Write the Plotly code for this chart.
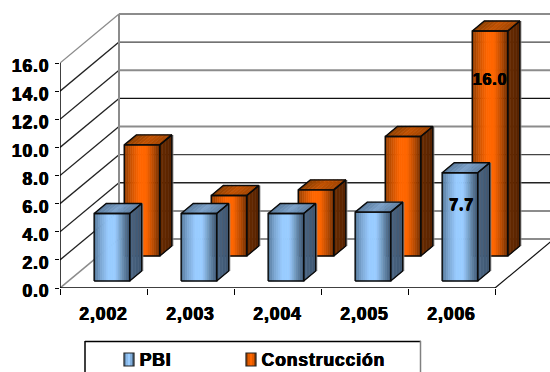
import numpy as np
import plotly.graph_objects as go

# Chart data
years = ["2,002", "2,003", "2,004", "2,005", "2,006"]
pbi = [4.8, 4.8, 4.8, 4.9, 7.7]
construccion = [7.9, 4.3, 4.7, 8.5, 16.0]
y_ticks = [0, 2, 4, 6, 8, 10, 12, 14, 16]
grid_colors = ["#8c8c8c", "#8c8c8c", "#222222", "#444444", "#8c8c8c",
               "#111111", "#8c8c8c", "#444444", "#8c8c8c"]

# Canvas and scale of the front plane
W, H = 550, 372
X0_PX, Y0_PX = 60, 288
CAT_PX, UNIT_PX = 87.0, 14.0625

# Oblique projection: a point at depth d moves right and up
DX = 59 / CAT_PX
DY = 49 / UNIT_PX
BAR_W = 35.5 / CAT_PX
BAR_D = 10 / 49
N_STRIPS = 18

FONT = "Liberation Sans"
FONT_SIZE = 17.5
HEAVY = "0.5px 0 0 #000, -0.4px 0 0 #000, 0 0.3px 0 #000"


def ramp(stops, t):
    pos = [s[0] for s in stops]
    cols = np.array([[int(s[1][i:i + 2], 16) for i in (1, 3, 5)] for s in stops], float)
    rgb = [np.interp(t, pos, cols[:, k]) for k in range(3)]
    return "rgb(%d,%d,%d)" % tuple(int(round(v)) for v in rgb)


ORANGE = {
    "front": [(0, "#8a3c00"), (0.18, "#c85200"), (0.42, "#ff6600"), (0.62, "#ff6600"),
              (0.85, "#b04800"), (1, "#6e2c00")],
    "side": [(0, "#6a2c00"), (1, "#562200")],
    "top": [(0, "#8a3e00"), (0.5, "#c05000"), (1, "#a04400")],
}
BLUE = {
    "front": [(0, "#4f7395"), (0.18, "#7aa5d0"), (0.4, "#99ccff"), (0.6, "#99ccff"),
              (0.85, "#5f82a4"), (1, "#3f5a78")],
    "side": [(0, "#4a6684"), (1, "#3e5670")],
    "top": [(0, "#58799b"), (0.5, "#7ba0c8"), (1, "#5f82a6")],
}

traces = []


def poly(xs, ys, fill=None, line="rgba(0,0,0,0)", width=0.6, close=True):
    xs, ys = list(xs), list(ys)
    if close:
        xs.append(xs[0])
        ys.append(ys[0])
    traces.append(go.Scatter(
        x=xs, y=ys, mode="lines",
        fill="toself" if fill else None, fillcolor=fill,
        line=dict(color=line, width=width),
        hoverinfo="skip", showlegend=False,
    ))


# Walls, floor and gridlines
for v, col in zip(y_ticks, grid_colors):
    w = 2 if col == "#8c8c8c" else 1.3
    poly([DX, 5 + DX + 1], [v + DY, v + DY], line=col, width=w, close=False)
    if v > 0:
        poly([0, DX], [v, v + DY], line="#8c8c8c" if v == 16 else "#222222", width=1.3, close=False)
poly([0, DX], [0, DY], line="#8c8c8c", width=1.6, close=False)
poly([DX, DX], [DY, 16 + DY], line="#8c8c8c", width=2, close=False)
poly([5, 5 + DX], [0, DY], line="#111111", width=1.2, close=False)
poly([0, 0], [0, 16], line="#000000", width=1.5, close=False)
poly([0, 5], [0, 0], line="#000000", width=1.5, close=False)


def bar(center, depth, value, style):
    """One oblique bar: front, side and top faces, then its outline."""
    cx = center + depth * DX
    base = depth * DY
    l, r = cx - BAR_W / 2, cx + BAR_W / 2
    top = base + value
    ox, oy = BAR_D * DX, BAR_D * DY

    # faint grey rim on the far side edge
    rim = 1 / CAT_PX
    poly([r + ox + rim, r + ox + rim], [base + oy, top + oy], line="#8c8c8c", width=1.2, close=False)

    # top face
    for k in range(N_STRIPS // 2):
        a, b = k / (N_STRIPS // 2), (k + 1) / (N_STRIPS // 2)
        xa, xb = l + a * BAR_W, l + b * BAR_W
        poly([xa, xb, xb + ox, xa + ox], [top, top, top + oy, top + oy],
             fill=ramp(style["top"], (a + b) / 2), line=ramp(style["top"], (a + b) / 2))
    # side face
    for k in range(4):
        a, b = k / 4 * ox, (k + 1) / 4 * ox
        ya, yb = a / DX * DY, b / DX * DY
        c = ramp(style["side"], (k + 0.5) / 4)
        poly([r + a, r + b, r + b, r + a], [base + ya, base + yb, top + yb, top + ya], fill=c, line=c)
    # front face
    for k in range(N_STRIPS):
        a, b = k / N_STRIPS, (k + 1) / N_STRIPS
        xa, xb = l + a * BAR_W, l + b * BAR_W
        c = ramp(style["front"], (a + b) / 2)
        poly([xa, xb, xb, xa], [base, base, top, top], fill=c, line=c)
    # edges
    edge = dict(line="#0a0a0a", width=1.4)
    poly([l, r, r, l], [base, base, top, top], **edge)
    poly([r, r + ox, r + ox, r], [base, base + oy, top + oy, top], **edge)
    poly([l, r, r + ox, l + ox], [top, top, top + oy, top + oy], **edge)


PBI_DEPTH = 7 / 49
CON_DEPTH = 32 / 49

for i, v in enumerate(construccion):
    bar(i + 0.5, CON_DEPTH, v, ORANGE)
for i, v in enumerate(pbi):
    bar(i + 0.5, PBI_DEPTH, v, BLUE)

# Value labels on the 2006 bars
traces.append(go.Scatter(
    x=[4.5 + CON_DEPTH * DX, 4.5 + PBI_DEPTH * DX + 0.02],
    y=[CON_DEPTH * DY + construccion[4] * 0.78, PBI_DEPTH * DY + pbi[4] * 0.69],
    text=["%.1f" % construccion[4], "%.1f" % pbi[4]],
    mode="text", textposition="middle center",
    textfont=dict(family=FONT, size=FONT_SIZE - 1.5, color="#000000", weight="bold", shadow=HEAVY),
    hoverinfo="skip", showlegend=False,
))

fig = go.Figure(traces)

# Legend box, partly running off the lower edge of the page
px = lambda v: v / W
py = lambda v: 1 - v / H
shapes = [
    dict(type="line", xref="paper", yref="paper", x0=px(85), x1=px(85), y0=py(341), y1=py(375),
         line=dict(color="#000000", width=1.5)),
    dict(type="line", xref="paper", yref="paper", x0=px(85), x1=px(421), y0=py(341.5), y1=py(341.5),
         line=dict(color="#000000", width=1.5)),
    dict(type="line", xref="paper", yref="paper", x0=px(420.5), x1=px(420.5), y0=py(341), y1=py(375),
         line=dict(color="#808080", width=1.5)),
]
for x_left, style in ((124, BLUE), (246, ORANGE)):
    for k in range(5):
        c = ramp(style["front"], (k + 0.5) / 5)
        shapes.append(dict(type="rect", xref="paper", yref="paper",
                           x0=px(x_left + k * 2), x1=px(x_left + (k + 1) * 2),
                           y0=py(353), y1=py(366), fillcolor=c, line=dict(width=0), layer="above"))
    shapes.append(dict(type="rect", xref="paper", yref="paper", x0=px(x_left), x1=px(x_left + 10),
                       y0=py(353), y1=py(366), line=dict(color="#222222", width=1.2), layer="above"))

annotations = [
    dict(text=name, xref="paper", yref="paper", x=px(lx), y=py(360), xanchor="left", yanchor="middle",
         showarrow=False, font=dict(family=FONT, size=FONT_SIZE, color="#000000", weight="bold", shadow=HEAVY))
    for name, lx in (("PBI", 139), ("Construcción", 265))
]

fig.update_layout(
    width=W, height=H,
    margin=dict(l=0, r=0, t=0, b=0, autoexpand=False),
    paper_bgcolor="#ffffff", plot_bgcolor="#ffffff",
    showlegend=False,
    shapes=shapes, annotations=annotations,
    xaxis=dict(
        domain=[X0_PX / W, 1], range=[0, (W - X0_PX) / CAT_PX],
        tickmode="array", tickvals=[i + 0.5 for i in range(5)], ticktext=years,
        ticks="", showgrid=False, zeroline=False, showline=False,
        ticklabelstandoff=13,
        tickfont=dict(family=FONT, size=FONT_SIZE, color="#000000", weight="bold", shadow=HEAVY),
        minor=dict(tickmode="array", tickvals=list(range(6)), ticks="outside",
                   ticklen=6, tickwidth=1.3, tickcolor="#000000", showgrid=False),
    ),
    yaxis=dict(
        domain=[(H - Y0_PX) / H, 1], range=[0, Y0_PX / UNIT_PX],
        tickmode="array", tickvals=y_ticks, ticktext=["%.1f" % v for v in y_ticks],
        ticks="outside", ticklen=4, tickwidth=1.3, tickcolor="#000000",
        showgrid=False, zeroline=False, showline=False,
        ticklabelstandoff=2, ticklabelshift=3,
        tickfont=dict(family=FONT, size=FONT_SIZE, color="#000000", weight="bold", shadow=HEAVY),
    ),
)

# Open up the letter spacing of all chart text
SPACING = """
var s = document.createElement('style');
s.textContent = '.xtick text, .ytick text, .annotation-text, .textpoint text {letter-spacing: 0.9px;}';
document.head.appendChild(s);
"""
fig.write_html("out.html", post_script=SPACING)
